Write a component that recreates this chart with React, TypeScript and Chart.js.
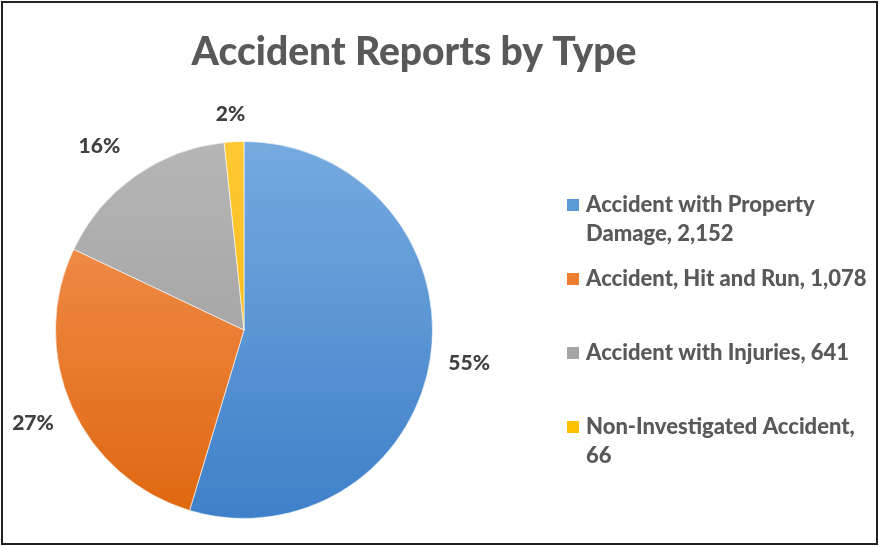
import React, { useEffect, useRef } from "react";
import { Chart, registerables } from "chart.js";

Chart.register(...registerables);

const title = "Accident Reports by Type";
const categories = [
  "Accident with Property Damage",
  "Accident, Hit and Run",
  "Accident with Injuries",
  "Non-Investigated Accident",
];
const values = [2152, 1078, 641, 66];
const baseColors = ["#5b9bd5", "#ed7d31", "#a5a5a5", "#ffc000"];
const gradientTop = ["#76aadf", "#f4975a", "#b6b6b6", "#ffc935"];
const gradientBottom = ["#3f80c9", "#df670f", "#989898", "#f2b200"];

const FONT = "Lato, 'Open Sans', sans-serif";
const TEXT_COLOR = "#595959";
const LABEL_COLOR = "#404040";
// small horizontal nudge of data labels (best-fit placement)
const LABEL_NUDGE_X = [0, -2, -14, -2];

function wrapText(ctx: CanvasRenderingContext2D, text: string, maxW: number): string[] {
  const words = text.split(" ");
  const lines: string[] = [];
  let cur = "";
  for (const w of words) {
    const test = cur ? cur + " " + w : w;
    if (ctx.measureText(test).width > maxW && cur) {
      lines.push(cur);
      cur = w;
    } else {
      cur = test;
    }
  }
  if (cur) lines.push(cur);
  return lines;
}

const decorPlugin = {
  id: "decor",
  afterDraw(chart: any) {
    const ctx: CanvasRenderingContext2D = chart.ctx;
    const total = values.reduce((a, b) => a + b, 0);
    ctx.save();
    // title
    ctx.fillStyle = TEXT_COLOR;
    ctx.font = `900 39px ${FONT}`;
    ctx.textAlign = "center";
    ctx.textBaseline = "alphabetic";
    ctx.fillText(title, 414, 65);

    // percent labels
    const meta = chart.getDatasetMeta(0);
    ctx.font = `900 21px ${FONT}`;
    ctx.fillStyle = LABEL_COLOR;
    meta.data.forEach((arc: any, i: number) => {
      const p = arc.getProps(["x", "y", "startAngle", "endAngle", "outerRadius"], true);
      const mid = (p.startAngle + p.endAngle) / 2;
      const txt = Math.round((values[i] / total) * 100) + "%";
      const hw = ctx.measureText(txt).width / 2;
      const hh = 10;
      const cx = Math.cos(mid);
      const sy = Math.sin(mid);
      const r = p.outerRadius + 17 + hw * Math.abs(cx) + hh * Math.abs(sy);
      const x = p.x + cx * r + LABEL_NUDGE_X[i];
      const y = p.y + sy * r;
      ctx.textAlign = "center";
      ctx.textBaseline = "alphabetic";
      ctx.fillText(txt, x, y + 7);
    });

    // legend
    ctx.font = `900 22px ${FONT}`;
    ctx.textAlign = "left";
    ctx.textBaseline = "alphabetic";
    categories.forEach((c, i) => {
      const text = c + ", " + values[i].toLocaleString("en-US");
      const lines = wrapText(ctx, text, 285);
      const base = 212 + i * 74;
      ctx.fillStyle = baseColors[i];
      ctx.fillRect(567, base - 13, 12, 12);
      ctx.fillStyle = TEXT_COLOR;
      lines.forEach((ln, j) => ctx.fillText(ln, 586, base + j * 29));
    });

    // border
    ctx.strokeStyle = "#222222";
    ctx.lineWidth = 2;
    ctx.strokeRect(2, 2, 875, 542);
    ctx.restore();
  },
};

export default function App() {
  const ref = useRef<HTMLCanvasElement | null>(null);
  useEffect(() => {
    if (!ref.current) return;
    const chart = new Chart(ref.current, {
      type: "pie",
      data: {
        labels: categories,
        datasets: [
          {
            data: values,
            backgroundColor: (c: any) => {
              const i = c.dataIndex;
              const area = c.chart.chartArea;
              if (!area || i === undefined) return baseColors[i ?? 0];
              const g = c.chart.ctx.createLinearGradient(0, area.top, 0, area.bottom);
              g.addColorStop(0, gradientTop[i]);
              g.addColorStop(1, gradientBottom[i]);
              return g;
            },
            borderColor: "rgba(255,255,255,0.6)",
            borderWidth: 1,
          },
        ],
      },
      options: {
        responsive: false,
        animation: false,
        layout: { padding: { left: 55, right: 446, top: 141, bottom: 27 } },
        plugins: {
          legend: { display: false },
          title: { display: false },
          tooltip: { enabled: false },
        },
      },
      plugins: [decorPlugin],
    });
    return () => chart.destroy();
  }, []);
  return (
    <div style={{ position: "absolute", left: 0, top: 0, width: 879, height: 546, background: "#ffffff" }}>
      <canvas ref={ref} width={879} height={546} />
    </div>
  );
}
